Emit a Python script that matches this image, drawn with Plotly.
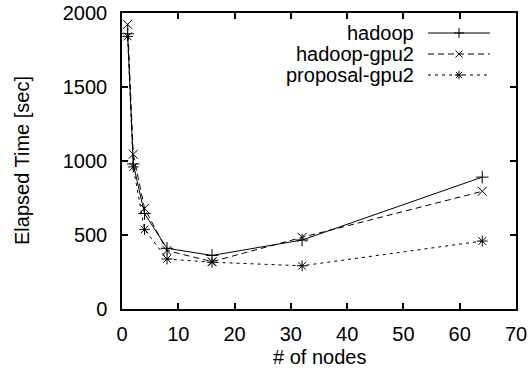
import plotly.graph_objects as go

nodes = [1, 2, 4, 8, 16, 32, 64]
hadoop = [1860, 980, 645, 410, 362, 466, 891]
hadoop_gpu2 = [1923, 1046, 680, 395, 320, 484, 795]
proposal_gpu2 = [1842, 960, 538, 338, 316, 292, 459]

series_names = ["hadoop", "hadoop-gpu2", "proposal-gpu2"]
x_ticks = [0, 10, 20, 30, 40, 50, 60, 70]
y_ticks = [0, 500, 1000, 1500, 2000]

FONT = "Liberation Sans, Arial, Helvetica, sans-serif"
styles = [
    dict(dash="solid", symbol="cross-thin-open"),
    dict(dash="6px,4px", symbol="x-thin-open"),
    dict(dash="3px,4px", symbol="asterisk-open"),
]

L, R, T, B = 122, 16, 13, 63
W, H = 532, 372
PW, PH = W - L - R, H - T - B

fig = go.Figure()
for name, ys, st in zip(series_names, [hadoop, hadoop_gpu2, proposal_gpu2], styles):
    fig.add_trace(go.Scatter(
        x=nodes, y=ys, name=name, mode="lines+markers",
        line=dict(color="black", width=1, dash=st["dash"]),
        marker=dict(symbol=st["symbol"], size=9, color="black",
                    line=dict(color="black", width=1)),
        showlegend=False, cliponaxis=False,
    ))

# custom legend (text on the left, sample on the right), pixel-like overlay axes
legend_rows = [33, 54, 75]
for name, st, ry in zip(series_names, styles, legend_rows):
    fig.add_trace(go.Scatter(
        x=[428, 490], y=[ry, ry], mode="lines", xaxis="x2", yaxis="y2",
        line=dict(color="black", width=1, dash=st["dash"]), showlegend=False,
        hoverinfo="skip",
    ))
    fig.add_trace(go.Scatter(
        x=[459], y=[ry], mode="markers", xaxis="x2", yaxis="y2",
        marker=dict(symbol=st["symbol"], size=7, color="black",
                    line=dict(color="black", width=1)), showlegend=False,
        hoverinfo="skip",
    ))
    fig.add_annotation(x=416, y=ry, xref="x2", yref="y2", text=name,
                       showarrow=False, xanchor="right", yanchor="middle",
                       font=dict(family=FONT, size=20, color="black"))

# axis titles
fig.add_annotation(x=(22 - L) / PW, y=0.5, xref="paper", yref="paper",
                   text="Elapsed Time [sec]", textangle=-90, showarrow=False,
                   xanchor="center", yanchor="middle",
                   font=dict(family=FONT, size=20, color="black"))
fig.add_annotation(x=0.5, y=(H - B - 357) / PH, xref="paper", yref="paper",
                   text="# of nodes", showarrow=False,
                   xanchor="center", yanchor="middle",
                   font=dict(family=FONT, size=20, color="black"))

axis_common = dict(
    showgrid=False, zeroline=False, showline=True, linecolor="black",
    linewidth=1.5, mirror="ticks", ticks="inside", ticklen=6,
    tickcolor="black", tickwidth=1.5, automargin=False,
    tickfont=dict(family=FONT, size=20, color="black"),
)

fig.update_layout(
    width=W, height=H,
    margin=dict(l=L, r=R, t=T, b=B),
    paper_bgcolor="white", plot_bgcolor="white",
    xaxis=dict(range=[0, 70], tickvals=x_ticks, ticklabelstandoff=6, **axis_common),
    yaxis=dict(range=[0, 2000], tickvals=y_ticks, ticklabelstandoff=9, **axis_common),
    xaxis2=dict(range=[L, W - R], overlaying="x", visible=False, fixedrange=True),
    yaxis2=dict(range=[H - B, T], overlaying="y", visible=False, fixedrange=True),
    showlegend=False,
)

fig.write_html("out.html", config={"displayModeBar": False},
               post_script="document.body.style.margin='0';")
